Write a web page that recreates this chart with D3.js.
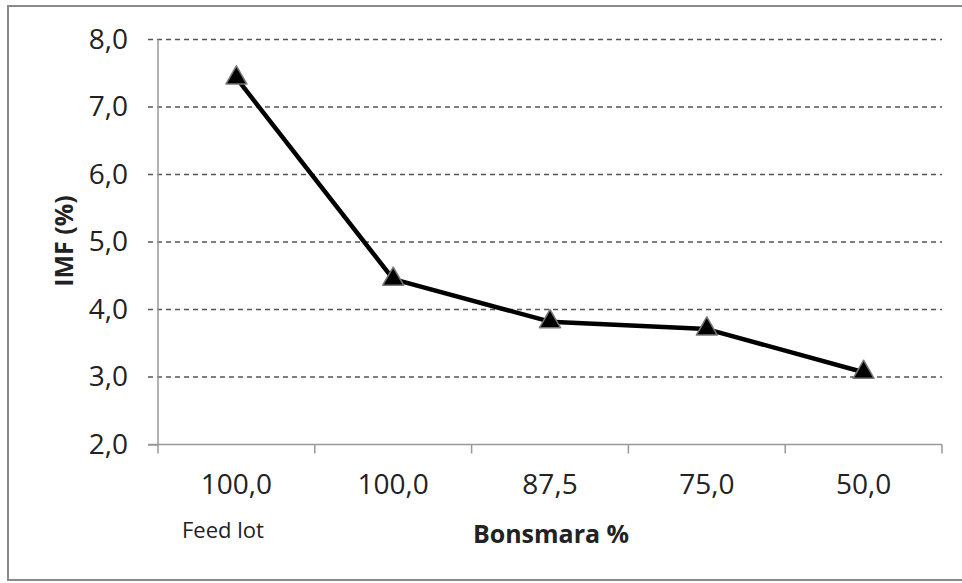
<!DOCTYPE html>
<html>
<head>
<meta charset="utf-8">
<script src="https://cdn.jsdelivr.net/npm/d3@7"></script>
<style>
  body { margin: 0; background: #fff; }
  text { font-family: "Open Sans", sans-serif; fill: #222; }
</style>
</head>
<body>
<script>
// data
var categories = ["100,0", "100,0", "87,5", "75,0", "50,0"];
var imfValues = [7.43, 4.45, 3.82, 3.71, 3.07];
var yTicks = [2, 3, 4, 5, 6, 7, 8];

var width = 962,
    height = 583;
var plot = {left: 158, right: 942, top: 39.5, bottom: 444.5};

var svg = d3.select("body").append("svg")
    .attr("width", width)
    .attr("height", height);

// outer frame
svg.append("rect")
    .attr("x", 8).attr("y", 6)
    .attr("width", 970).attr("height", 574)
    .attr("fill", "none")
    .attr("stroke", "#8a8a8a")
    .attr("stroke-width", 2);

var x = d3.scaleBand()
    .domain(d3.range(categories.length))
    .range([plot.left, plot.right]);

var y = d3.scaleLinear()
    .domain([2, 8])
    .range([plot.bottom, plot.top]);

var fmt = function(d) { return d3.format(".1f")(d).replace(".", ","); };

// gridlines (dashed) with left ticks
svg.append("g")
    .selectAll("line")
    .data(yTicks.filter(function(d) { return d > 2; }))
    .enter().append("line")
    .attr("x1", plot.left - 10)
    .attr("x2", plot.right)
    .attr("y1", function(d) { return y(d); })
    .attr("y2", function(d) { return y(d); })
    .attr("stroke", "#555")
    .attr("stroke-width", 1.5)
    .attr("stroke-dasharray", "5,4");

// y axis
var yAxis = d3.axisLeft(y)
    .tickValues(yTicks)
    .tickFormat(fmt)
    .tickSize(10)
    .tickPadding(20);
var gy = svg.append("g")
    .attr("transform", "translate(" + plot.left + ",0)")
    .call(yAxis);
gy.select(".domain").remove();
gy.append("line")
    .attr("x1", 0).attr("x2", 0)
    .attr("y1", plot.top).attr("y2", plot.bottom)
    .attr("stroke", "#999").attr("stroke-width", 1.5);
gy.selectAll(".tick line").attr("stroke", "#999").attr("stroke-width", 1.5)
    .attr("stroke-opacity", function(d) { return d === 2 ? 1 : 0; });
gy.selectAll(".tick text")
    .attr("font-family", "Open Sans")
    .attr("font-size", 28)
    .attr("fill", "#222");

// x axis
var xAxis = d3.axisBottom(x)
    .tickFormat(function(i) { return categories[i]; })
    .tickSize(0)
    .tickPadding(30);
var gx = svg.append("g")
    .attr("transform", "translate(0," + plot.bottom + ")")
    .call(xAxis);
gx.select(".domain").remove();
gx.append("line")
    .attr("x1", plot.left - 10).attr("x2", plot.right)
    .attr("stroke", "#999").attr("stroke-width", 1.5);
gx.selectAll(".tick text")
    .attr("font-family", "Open Sans")
    .attr("font-size", 28)
    .attr("fill", "#222");
// boundary ticks between categories
var bounds = d3.range(categories.length + 1).map(function(i) {
    return plot.left + i * x.bandwidth();
});
gx.selectAll("line.bound")
    .data(bounds)
    .enter().append("line")
    .attr("class", "bound")
    .attr("x1", function(d) { return d; })
    .attr("x2", function(d) { return d; })
    .attr("y1", 0).attr("y2", 9)
    .attr("stroke", "#999").attr("stroke-width", 1.5);

// line
var line = d3.line()
    .x(function(d, i) { return x(i) + x.bandwidth() / 2; })
    .y(function(d) { return y(d); });

svg.append("path")
    .attr("d", line(imfValues))
    .attr("fill", "none")
    .attr("stroke", "#000")
    .attr("stroke-width", 4.5)
    .attr("stroke-linejoin", "round");

// triangle markers
svg.append("g")
    .selectAll("path")
    .data(imfValues)
    .enter().append("path")
    .attr("d", d3.symbol().type(d3.symbolTriangle).size(190))
    .attr("transform", function(d, i) {
        return "translate(" + (x(i) + x.bandwidth() / 2) + "," + y(d) + ")";
    })
    .attr("fill", "#000")
    .attr("stroke", "#777")
    .attr("stroke-width", 1.5)
    .attr("stroke-linejoin", "round");

// titles
svg.append("text")
    .attr("x", 551).attr("y", 543)
    .attr("text-anchor", "middle")
    .attr("font-size", 25)
    .attr("font-weight", "bold")
    .attr("fill", "#111")
    .text("Bonsmara %");

svg.append("text")
    .attr("transform", "translate(73,241) rotate(-90)")
    .attr("text-anchor", "middle")
    .attr("font-size", 25)
    .attr("font-weight", "bold")
    .attr("fill", "#111")
    .text("IMF (%)");

svg.append("text")
    .attr("x", 182).attr("y", 538)
    .attr("font-size", 22)
    .attr("fill", "#000")
    .text("Feed lot");
</script>
</body>
</html>
